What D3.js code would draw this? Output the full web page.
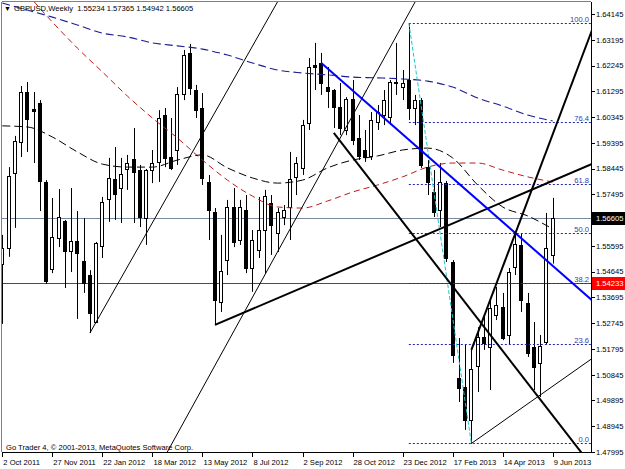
<!DOCTYPE html>
<html lang="en">
<head>
<meta charset="UTF-8">
<title>GBPUSD Weekly</title>
<script src="https://d3js.org/d3.v7.min.js"></script>
<style>
  body { margin: 0; background: #fff; }
  text { font-family: "Liberation Sans", Arial, sans-serif; font-size: 7.6px; }
</style>
</head>
<body>
<script>
const width = 625, height = 469;
const plotL = 2, plotT = 2, plotR = 591, plotB = 452;

// weekly bars, first one is the week of 2 Oct 2011
const firstWeek = new Date(2011, 9, 2);
const weeks = d3.range(89).map(i => d3.timeWeek.offset(firstWeek, i));

const opens = [1.5493,1.5552,1.5828,1.5943,1.6127,1.6064,1.6086,1.5795,1.5474,1.5589,
  1.5651,1.5541,1.5577,1.5504,1.5452,1.5279,1.5559,1.5732,1.5806,1.5773,
  1.5843,1.5880,1.5839,1.5662,1.5839,1.5869,1.6042,1.5887,1.5913,1.6119,
  1.6271,1.6134,1.6068,1.5795,1.5684,1.5353,1.5507,1.5703,1.5581,1.5692,
  1.5478,1.5544,1.5618,1.5718,1.5607,1.5666,1.5703,1.5814,1.5847,1.6013,
  1.6226,1.6234,1.6145,1.6134,1.6072,1.5987,1.6101,1.5957,1.5913,1.5891,
  1.6016,1.6042,1.6035,1.6164,1.6145,1.6171,1.6068,1.6097,1.5850,1.5758,
  1.5692,1.5791,1.5500,1.5072,1.5039,1.4918,1.5117,1.5224,1.5187,1.5305,
  1.5334,1.5231,1.5482,1.5563,1.5349,1.5187,1.5128,1.5205,1.55234];
const highs = [1.5600,1.5850,1.5965,1.6149,1.6164,1.6127,1.6097,1.5802,1.5736,1.5769,
  1.5655,1.5773,1.5688,1.5662,1.5470,1.5574,1.5740,1.5884,1.5924,1.5884,
  1.5895,1.5994,1.5858,1.5843,1.5913,1.6060,1.6068,1.6031,1.6145,1.6282,
  1.6304,1.6153,1.6123,1.5821,1.5699,1.5600,1.5729,1.5773,1.5729,1.5747,
  1.5618,1.5740,1.5766,1.5747,1.5699,1.5710,1.5906,1.5887,1.6024,1.6252,
  1.6308,1.6271,1.6219,1.6138,1.6160,1.6108,1.6171,1.6042,1.5987,1.6053,
  1.6079,1.6134,1.6171,1.6308,1.6208,1.6381,1.6116,1.6105,1.5876,1.5839,
  1.5865,1.5799,1.5507,1.5220,1.5194,1.5176,1.5260,1.5297,1.5360,1.5408,
  1.5386,1.5478,1.5607,1.5607,1.5386,1.5279,1.5231,1.5681,1.57365];
const lows = [1.5272,1.5519,1.5626,1.5887,1.5906,1.5865,1.5688,1.5419,1.5459,1.5555,
  1.5404,1.5463,1.5290,1.5386,1.5238,1.5275,1.5515,1.5648,1.5655,1.5644,
  1.5766,1.5644,1.5629,1.5563,1.5791,1.5795,1.5850,1.5839,1.5858,1.6097,
  1.6116,1.6031,1.5784,1.5581,1.5268,1.5316,1.5452,1.5555,1.5563,1.5459,
  1.5390,1.5515,1.5459,1.5526,1.5537,1.5636,1.5581,1.5747,1.5821,1.5987,
  1.6134,1.6116,1.6068,1.5994,1.5968,1.5968,1.5931,1.5876,1.5869,1.5876,
  1.5987,1.6005,1.6005,1.6116,1.6097,1.6024,1.6005,1.5847,1.5747,1.5666,
  1.5629,1.5500,1.5128,1.4984,1.4881,1.4831,1.5021,1.5176,1.5028,1.5286,
  1.5212,1.5194,1.5452,1.5316,1.5150,1.5028,1.5002,1.5194,1.54942];
const closes = [1.5552,1.5817,1.5946,1.6127,1.6027,1.6057,1.5799,1.5430,1.5592,1.5666,
  1.5541,1.5577,1.5533,1.5423,1.5312,1.5570,1.5721,1.5810,1.5751,1.5825,
  1.5865,1.5832,1.5666,1.5839,1.5865,1.6031,1.5884,1.5847,1.6119,1.6263,
  1.6142,1.6060,1.5810,1.5692,1.5360,1.5467,1.5703,1.5574,1.5703,1.5478,
  1.5581,1.5618,1.5743,1.5636,1.5684,1.5692,1.5806,1.5865,1.6005,1.6219,
  1.6219,1.6160,1.6131,1.6072,1.5994,1.6101,1.5950,1.5891,1.5887,1.6024,
  1.6053,1.6097,1.6164,1.6160,1.6160,1.6068,1.6097,1.5858,1.5795,1.5684,
  1.5795,1.5515,1.5157,1.5036,1.4918,1.5106,1.5224,1.5202,1.5331,1.5342,
  1.5220,1.5463,1.5567,1.5360,1.5165,1.5113,1.5190,1.5552,1.56605];

// moving averages read every 4th bar (bar 0, 4, 8 ... 88)
const maBars = d3.range(0, 89, 4);
const maSlow = [1.6455,1.6429,1.6403,1.6374,1.6344,1.6330,1.6308,1.6297,1.6285,1.6263,1.6234,1.6208,
  1.6197,1.6190,1.6182,1.6179,1.6175,1.6167,1.6145,1.6105,1.6075,1.6042,1.6020];
const maMid = [null,1.6488,1.6385,1.6289,1.6201,1.6112,1.6031,1.5957,1.5876,1.5802,1.5743,1.5703,
  1.5699,1.5725,1.5758,1.5784,1.5814,1.5850,1.5865,1.5865,1.5839,1.5814,1.5795];
const maFast = [1.6002,1.5998,1.5961,1.5906,1.5861,1.5850,1.5850,1.5876,1.5895,1.5847,1.5810,1.5791,
  1.5802,1.5847,1.5876,1.5891,1.5913,1.5920,1.5884,1.5784,1.5703,1.5670,1.5622];

// fibonacci retracement: high of bar 65, low of bar 75
const fibLevels = [0, 23.6, 38.2, 50.0, 61.8, 76.4, 100.0];
const fibHigh = 1.6381, fibLow = 1.4831;

// trend lines: [bar, price] anchors, drawn as rays to the right
const trendLines = [
  { a: [14, 1.5238], b: [44, 1.6459], color: "#000", w: 1 },
  { a: [26.3, 1.4796], b: [66, 1.6459], color: "#000", w: 1 },
  { a: [34, 1.5268], b: [66, 1.5583], color: "#000", w: 2 },
  { a: [51, 1.6234], b: [88, 1.5486], color: "#0000ff", w: 2 },
  { a: [53, 1.5976], b: [88, 1.4934], color: "#000", w: 2 },
  { a: [75, 1.5176], b: [88, 1.5971], color: "#000", w: 2 },
  { a: [75, 1.4831], b: [88, 1.5042], color: "#000", w: 1 }
];

const bidPrice = 1.56605, alertPrice = 1.54233;
// 1.56545 sits under the bid tag, so it gets a tick but no label
const priceTicks = ["1.64145","1.63195","1.62245","1.61295","1.60345","1.59395","1.58445","1.57495",
  "1.56545","1.55595","1.54645","1.53695","1.52745","1.51795","1.50845","1.49895","1.48945","1.47995"];
const hiddenTicks = ["1.56545"];
const timeTickBars = d3.range(0, 89, 8);
const timeTicks = ["2 Oct 2011","27 Nov 2011","22 Jan 2012","18 Mar 2012","13 May 2012","8 Jul 2012",
  "2 Sep 2012","28 Oct 2012","23 Dec 2012","17 Feb 2013","14 Apr 2013","9 Jun 2013"];

const svg = d3.select("body").append("svg")
  .attr("width", width).attr("height", height)
  .style("display", "block");

const x = d3.scalePoint().domain(weeks).range([2.3, 552.7]);
const xi = d3.scaleLinear().domain([0, 88]).range([2.3, 552.7]);
const y = d3.scaleLinear().domain([1.47995, 1.64145]).range([452, 14]);

svg.append("clipPath").attr("id", "clip")
  .append("rect").attr("x", plotL).attr("y", plotT)
  .attr("width", plotR - plotL).attr("height", plotB - plotT);

const plot = svg.append("g").attr("clip-path", "url(#clip)");

// horizontal lines (bid + alert)
plot.append("line").attr("x1", plotL).attr("x2", plotR)
  .attr("y1", Math.round(y(bidPrice)) + 0.5).attr("y2", Math.round(y(bidPrice)) + 0.5)
  .attr("stroke", "#7a8a9a");
plot.append("line").attr("x1", plotL).attr("x2", plotR)
  .attr("y1", Math.round(y(alertPrice)) + 0.5).attr("y2", Math.round(y(alertPrice)) + 0.5)
  .attr("stroke", "#ff0000");

// candles
const bars = weeks.map((d, i) => ({ d, i, o: opens[i], h: highs[i], l: lows[i], c: closes[i] }));
const px = d => Math.round(x(d.d));

plot.append("g").selectAll("line").data(bars).join("line")
  .attr("x1", d => px(d) + 0.5).attr("x2", d => px(d) + 0.5)
  .attr("y1", d => y(d.h)).attr("y2", d => y(d.l))
  .attr("stroke", "#000");

plot.append("g").selectAll("rect").data(bars).join("rect")
  .attr("x", d => px(d) - 1.5)
  .attr("y", d => Math.round(y(Math.max(d.o, d.c))) + 0.5)
  .attr("width", 3)
  .attr("height", d => Math.max(1, Math.round(Math.abs(y(d.o) - y(d.c)))))
  .attr("fill", d => d.c >= d.o ? "#fff" : "#000")
  .attr("stroke", "#000");

// moving averages
const maLine = vals => d3.line()
  .defined(d => d[1] != null)
  .x(d => xi(d[0])).y(d => y(d[1]))
  .curve(d3.curveMonotoneX)(maBars.map((b, k) => [b, vals[k]]));

plot.append("path").attr("d", maLine(maSlow)).attr("fill", "none")
  .attr("stroke", "#1c1c96").attr("stroke-width", 1.1).attr("stroke-dasharray", "8,4");
plot.append("path").attr("d", maLine(maMid)).attr("fill", "none")
  .attr("stroke", "#c0181c").attr("stroke-width", 1).attr("stroke-dasharray", "6,4");
plot.append("path").attr("d", maLine(maFast)).attr("fill", "none")
  .attr("stroke", "#000").attr("stroke-width", 1).attr("stroke-dasharray", "8,4");

// fibonacci
const fibPrice = lv => fibLow + (fibHigh - fibLow) * lv / 100;
const fib = plot.append("g");
fib.selectAll("line").data(fibLevels).join("line")
  .attr("x1", xi(65)).attr("x2", plotR)
  .attr("y1", d => Math.round(y(fibPrice(d))) + 0.5).attr("y2", d => Math.round(y(fibPrice(d))) + 0.5)
  .attr("stroke", "#2323b4").attr("stroke-dasharray", "2,2");
fib.selectAll("text").data(fibLevels).join("text")
  .attr("x", plotR - 2).attr("y", d => Math.round(y(fibPrice(d))) - 1)
  .attr("text-anchor", "end").attr("fill", "#3a3aa8")
  .text(d => d.toFixed(1));
fib.append("line")
  .attr("x1", xi(65)).attr("y1", y(fibHigh)).attr("x2", xi(75)).attr("y2", y(fibLow))
  .attr("stroke", "#18c8d0").attr("stroke-width", 1).attr("stroke-dasharray", "4,2");

// trend lines
plot.append("g").selectAll("line").data(trendLines).join("line")
  .attr("x1", d => xi(d.a[0])).attr("y1", d => y(d.a[1]))
  .attr("x2", d => xi(d.a[0] + (d.b[0] - d.a[0]) * 20))
  .attr("y2", d => y(d.a[1] + (d.b[1] - d.a[1]) * 20))
  .attr("stroke", d => d.color).attr("stroke-width", d => d.w);

// frame
svg.append("line").attr("x1", plotL - 0.5).attr("x2", plotL - 0.5).attr("y1", plotT).attr("y2", plotB)
  .attr("stroke", "#808080");
svg.append("line").attr("x1", plotL).attr("x2", plotR).attr("y1", plotT - 0.5).attr("y2", plotT - 0.5)
  .attr("stroke", "#808080");
svg.append("line").attr("x1", plotR + 0.5).attr("x2", plotR + 0.5).attr("y1", plotT).attr("y2", plotB + 1)
  .attr("stroke", "#000");
svg.append("line").attr("x1", plotL).attr("x2", plotR + 1).attr("y1", plotB + 0.5).attr("y2", plotB + 0.5)
  .attr("stroke", "#000");

// price axis
const pa = svg.append("g");
pa.selectAll("line").data(priceTicks).join("line")
  .attr("x1", plotR).attr("x2", plotR + 4)
  .attr("y1", d => Math.round(y(+d)) + 0.5).attr("y2", d => Math.round(y(+d)) + 0.5)
  .attr("stroke", "#000");
pa.selectAll("text").data(priceTicks.filter(d => !hiddenTicks.includes(d))).join("text")
  .attr("x", 596).attr("y", d => y(+d) + 2.8)
  .text(d => d);

const priceTag = (p, bg) => {
  const yy = Math.round(y(p));
  svg.append("rect").attr("x", 592).attr("y", yy - 6).attr("width", 33).attr("height", 13).attr("fill", bg);
  svg.append("text").attr("x", 596).attr("y", yy + 3).attr("fill", "#fff").text(p.toFixed(5));
};
priceTag(bidPrice, "#000");
priceTag(alertPrice, "#ff0000");

// time axis
const ta = svg.append("g");
ta.selectAll("line").data(timeTickBars).join("line")
  .attr("x1", d => Math.round(xi(d)) + 0.5).attr("x2", d => Math.round(xi(d)) + 0.5)
  .attr("y1", plotB).attr("y2", plotB + 5)
  .attr("stroke", "#000");
ta.selectAll("text").data(timeTickBars).join("text")
  .attr("x", d => xi(d) + 1).attr("y", 465)
  .text((d, k) => timeTicks[k]);

// header and footer text
svg.append("text").attr("x", 4).attr("y", 11).style("font-size", "7px").text("\u25BC");
svg.append("text").attr("x", 14).attr("y", 11).attr("xml:space", "preserve")
  .text("GBPUSD,Weekly  1.55234 1.57365 1.54942 1.56605");
svg.append("text").attr("x", 6).attr("y", 450)
  .text("Go Trader 4, \u00A9 2001-2013, MetaQuotes Software Corp.");
</script>
</body>
</html>
